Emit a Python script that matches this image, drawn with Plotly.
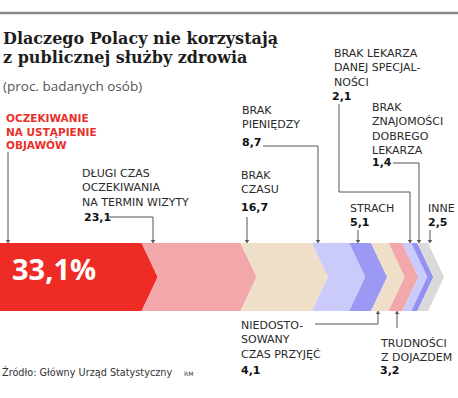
import plotly.graph_objects as go

# ---------------- data ----------------
categories = [
    "OCZEKIWANIE<br>NA USTĄPIENIE<br>OBJAWÓW",
    "DŁUGI CZAS<br>OCZEKIWANIA<br>NA TERMIN WIZYTY",
    "BRAK<br>CZASU",
    "BRAK<br>PIENIĘDZY",
    "STRACH",
    "NIEDOSTO-<br>SOWANY<br>CZAS PRZYJĘĆ",
    "TRUDNOŚCI<br>Z DOJAZDEM",
    "BRAK LEKARZA<br>DANEJ SPECJAL-<br>NOŚCI",
    "BRAK<br>ZNAJOMOŚCI<br>DOBREGO<br>LEKARZA",
    "INNE",
]
values = [33.1, 23.1, 16.7, 8.7, 5.1, 4.1, 3.2, 2.1, 1.4, 2.5]
value_labels = ["33,1%", "23,1", "16,7", "8,7", "5,1", "4,1", "3,2", "2,1", "1,4", "2,5"]
title_lines = ["Dlaczego Polacy nie korzystają", "z publicznej służby zdrowia"]
subtitle = "(proc. badanych osób)"
source = "Źródło: Główny Urząd Statystyczny"
author = "RM"

# ---------------- styles / layout ----------------
colors = ["#ee2b25", "#f2a8ab", "#efdfc9", "#cacafb", "#9c99f5",
          "#efdfc9", "#f2a8ab", "#cacafb", "#9491f4", "#dadada"]
W, H = 458, 398
PX = 4.28                  # pixels per percent
BAR_TOP, BAR_BOT = 243, 311
BAR_MID = (BAR_TOP + BAR_BOT) / 2
DEPTH = 16 / PX            # chevron depth in percent units
LINE_COL = "#555555"
TXT_COL = "#2a2a2a"
SANS = "DejaVu Sans"

def ux(px):
    return px / PX

label_layout = [
    dict(lx=4, ly=118, vx=None, vy=None, path=[(8, 152), (8, BAR_TOP)], side="top"),
    dict(lx=80, ly=173, vx=82, vy=217, path=[(109, 217), (153, 217), (153, BAR_TOP)], side="top"),
    dict(lx=239, ly=175, vx=239, vy=207, path=[(247, 217), (247, BAR_TOP)], side="top"),
    dict(lx=240, ly=110, vx=240, vy=142, path=[(263, 146), (318, 146), (318, BAR_TOP)], side="top"),
    dict(lx=348, ly=208, vx=348, vy=222, path=[(358, 230), (358, BAR_TOP)], side="top"),
    dict(lx=239, ly=325, vx=239, vy=370, path=[(315, 324), (378, 324), (378, BAR_BOT)], side="bot"),
    dict(lx=378, ly=343, vx=378, vy=370, path=[(397, 328), (397, BAR_BOT)], side="bot"),
    dict(lx=332, ly=53, vx=330, vy=96, path=[(339, 104), (339, 192), (410, 192), (410, BAR_TOP)], side="top"),
    dict(lx=370, ly=107, vx=370, vy=162, path=[(393, 163), (419, 163), (419, BAR_TOP)], side="top"),
    dict(lx=426, ly=208, vx=426, vy=222, path=[(430, 230), (430, BAR_TOP)], side="top"),
]

fig = go.Figure()

# chevron segments
start = 0.0
for i, (v, c) in enumerate(zip(values, colors)):
    x0, x1 = start, start + v
    notch = x0 + DEPTH if i > 0 else x0
    xs = [x0, x1, x1 + DEPTH, x1, x0, notch, x0]
    ys = [BAR_TOP, BAR_TOP, BAR_MID, BAR_BOT, BAR_BOT, BAR_MID, BAR_TOP]
    fig.add_trace(go.Scatter(x=xs, y=ys, mode="lines", fill="toself",
                             fillcolor=c, line=dict(width=0, color=c),
                             hoverinfo="skip", showlegend=False))
    start = x1

annotations = []
shapes = []

for i, lay in enumerate(label_layout):
    pts = lay["path"]
    fig.add_trace(go.Scatter(x=[ux(p[0]) for p in pts], y=[p[1] for p in pts],
                             mode="lines", line=dict(color=LINE_COL, width=1),
                             hoverinfo="skip", showlegend=False))
    ex, ey = pts[-1]
    sym = "triangle-down" if lay["side"] == "top" else "triangle-up"
    fig.add_trace(go.Scatter(x=[ux(ex)], y=[ey + (-2 if lay["side"] == "top" else 2)],
                             mode="markers",
                             marker=dict(symbol=sym, size=4, color=LINE_COL),
                             hoverinfo="skip", showlegend=False))

    first = i == 0
    annotations.append(dict(
        x=ux(lay["lx"]), y=lay["ly"] - 8, xref="x", yref="y",
        xanchor="left", yanchor="top", align="left", showarrow=False,
        text=("<b>%s</b>" % categories[i]) if first else categories[i],
        font=dict(family=SANS, size=10.5 if first else 11,
                  color="#e8312c" if first else TXT_COL),
    ))
    if lay["vx"] is not None:
        annotations.append(dict(
            x=ux(lay["vx"]), y=lay["vy"], xref="x", yref="y",
            xanchor="left", yanchor="middle", showarrow=False,
            text="<b>%s</b>" % value_labels[i],
            font=dict(family=SANS, size=11, color="#111111"),
        ))

annotations.append(dict(
    x=ux(10), y=268, xref="x", yref="y", xanchor="left", yanchor="middle",
    showarrow=False, text="<b>%s</b>" % value_labels[0],
    font=dict(family="Open Sans", size=29, color="white"),
))

annotations.append(dict(x=ux(1), y=38, xref="x", yref="y", xanchor="left",
                        yanchor="middle", showarrow=False,
                        text="<b>%s</b>" % title_lines[0],
                        font=dict(family="DejaVu Serif", size=16, color="#1e1e1e")))
annotations.append(dict(x=ux(1), y=57, xref="x", yref="y", xanchor="left",
                        yanchor="middle", showarrow=False,
                        text="<b>%s</b>" % title_lines[1],
                        font=dict(family="DejaVu Serif", size=16, color="#1e1e1e")))
annotations.append(dict(x=ux(1), y=86, xref="x", yref="y", xanchor="left",
                        yanchor="middle", showarrow=False, text=subtitle,
                        font=dict(family="Open Sans", size=13.5, color="#555555")))
annotations.append(dict(x=ux(0), y=372, xref="x", yref="y", xanchor="left",
                        yanchor="middle", showarrow=False, text=source,
                        font=dict(family=SANS, size=9.7, color="#333333")))
annotations.append(dict(x=ux(182), y=373, xref="x", yref="y", xanchor="left",
                        yanchor="middle", showarrow=False, text=author,
                        font=dict(family=SANS, size=6, color="#333333")))

shapes.append(dict(type="line", xref="x", yref="y", x0=0, x1=ux(W), y0=13, y1=13,
                   line=dict(color="#8a8a8a", width=2.5)))

fig.update_layout(
    width=W, height=H,
    margin=dict(l=0, r=0, t=0, b=0),
    paper_bgcolor="white", plot_bgcolor="white",
    xaxis=dict(range=[0, ux(W)], visible=False, fixedrange=True),
    yaxis=dict(range=[H, 0], visible=False, fixedrange=True),
    annotations=annotations, shapes=shapes,
    showlegend=False,
)

fig.write_html("out.html", config={"displayModeBar": False},
               post_script="document.body.style.margin='0px';document.body.style.overflow='hidden';")
